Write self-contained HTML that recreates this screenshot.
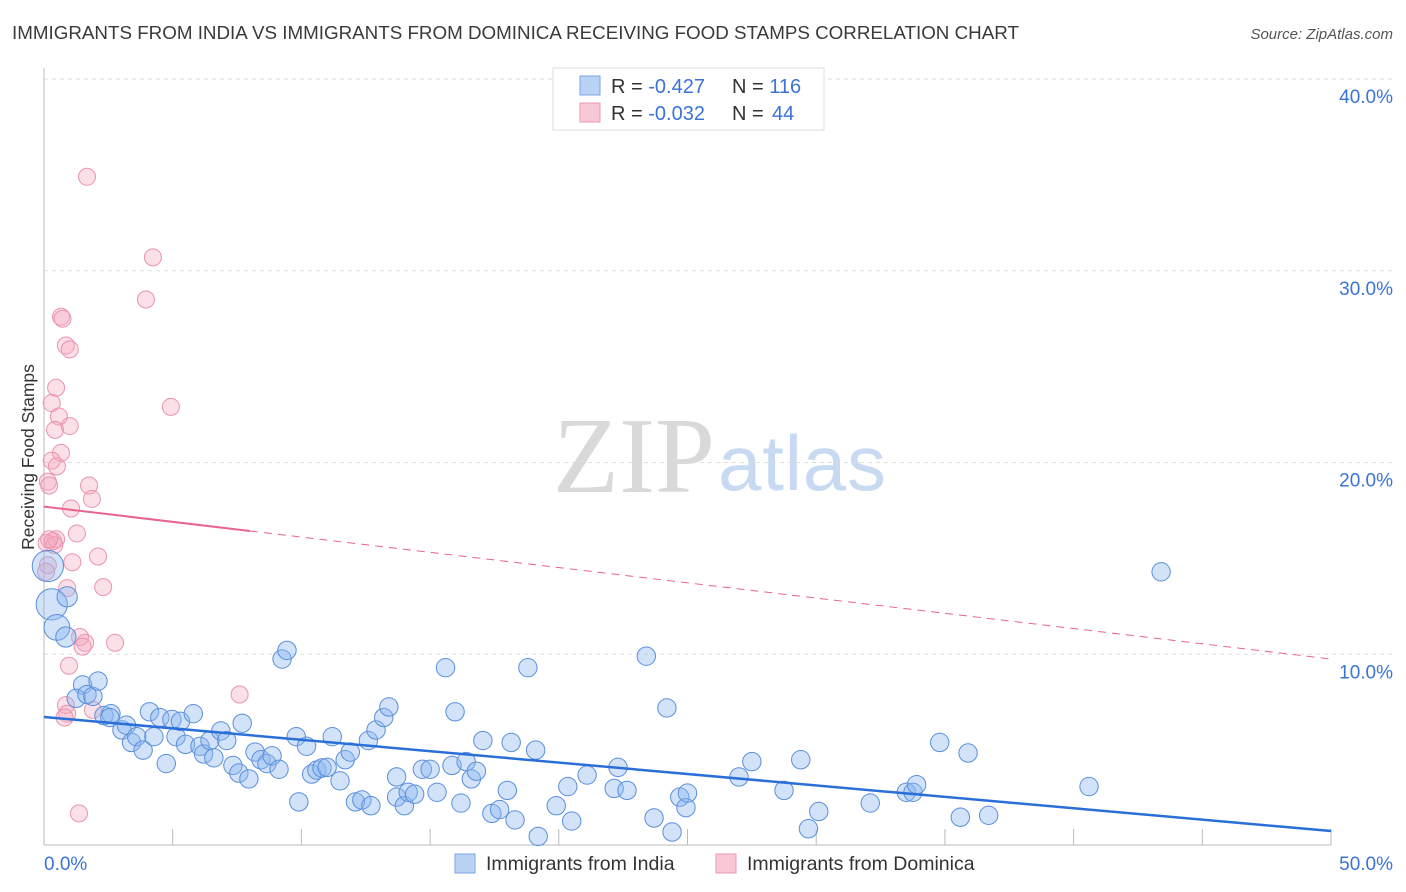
<!DOCTYPE html>
<html><head><meta charset="utf-8">
<style>
body{margin:0;background:#fff;font-family:"Liberation Sans",sans-serif;}
svg{display:block}
</style></head>
<body>
<svg id="chart" width="1406" height="892" xmlns="http://www.w3.org/2000/svg">
<text x="12" y="39" font-size="18.8" fill="#3a3a3a">IMMIGRANTS FROM INDIA VS IMMIGRANTS FROM DOMINICA RECEIVING FOOD STAMPS CORRELATION CHART</text>
<text x="1393" y="39" font-size="15" fill="#555" font-style="italic" text-anchor="end">Source: ZipAtlas.com</text>
<text x="0" y="0" font-size="17.5" fill="#333" text-anchor="middle" transform="translate(34,457) rotate(-90)">Receiving Food Stamps</text>
<g>
<text x="553" y="492" font-size="108" fill="#d9d9d9" font-family="Liberation Serif,serif" textLength="162">ZIP</text>
<text x="718" y="490" font-size="78" fill="#c8daf2" textLength="168">atlas</text>
</g>
<g id="grid"></g>
<g id="axes"></g>
<g id="marks"></g>
<g id="trend"></g>
<g>
<rect x="553" y="68" width="271" height="62" fill="#fff" stroke="#ddd"/>
<rect x="580" y="76" width="20" height="19" fill="#b9d3f5" stroke="#7ba6e6"/>
<rect x="580" y="103" width="20" height="19" fill="#f8c8d6" stroke="#e99ab2"/>
<text x="611" y="93" font-size="20" fill="#333">R = <tspan fill="#3b73d6">-0.427</tspan><tspan x="732">N = </tspan><tspan fill="#3b73d6">116</tspan></text>
<text x="611" y="120" font-size="20" fill="#333">R = <tspan fill="#3b73d6">-0.032</tspan><tspan x="732">N = </tspan><tspan fill="#3b73d6" x="772">44</tspan></text>
</g>
<g>
<rect x="455" y="854" width="20" height="19" fill="#b9d3f5" stroke="#7ba6e6"/>
<text x="486" y="870" font-size="19.5" fill="#333">Immigrants from India</text>
<rect x="716" y="854" width="20" height="19" fill="#f8c8d6" stroke="#e99ab2"/>
<text x="747" y="870" font-size="19.5" fill="#333">Immigrants from Dominica</text>
</g>
</svg>
<script>
const yTicks=[10,20,30,40];
const yTickLabels=["10.0%","20.0%","30.0%","40.0%"];
const xTicks=[0,5,10,15,20,25,30,35,40,45,50];
const indiaX=[0.15,0.3,0.5,0.9,0.85,1.5,1.25,1.67,1.9,2.1,2.33,2.6,2.56,3.03,3.2,3.4,3.6,3.85,4.1,4.27,4.5,4.75,4.97,5.13,5.3,5.5,5.8,6.06,6.2,6.45,6.6,6.87,7.1,7.34,7.57,7.7,7.96,8.2,8.43,8.66,8.86,9.13,9.25,9.44,9.8,9.9,10.2,10.4,10.6,10.8,11.0,11.2,11.5,11.7,11.9,12.1,12.35,12.6,12.7,12.9,13.2,13.4,13.7,13.7,14.0,14.15,14.4,14.7,15.0,15.27,15.6,15.85,15.97,16.2,16.4,16.6,16.8,17.05,17.4,17.7,18.0,18.15,18.3,18.8,19.1,19.2,19.9,20.35,20.5,21.1,22.15,22.3,22.65,23.4,23.7,24.2,24.4,24.7,24.94,25.0,27.0,27.5,28.75,29.4,29.7,30.1,32.1,33.5,33.76,33.9,34.8,35.6,35.9,36.7,40.6,43.4];
const indiaY=[14.6,12.6,11.4,13.0,10.9,8.4,7.7,7.9,7.8,8.6,6.8,6.9,6.7,6.05,6.3,5.4,5.7,5.0,7.0,5.7,6.7,4.3,6.6,5.7,6.5,5.3,6.9,5.2,4.8,5.5,4.6,6.0,5.5,4.2,3.8,6.4,3.5,4.9,4.5,4.3,4.7,4.0,9.75,10.2,5.7,2.3,5.2,3.75,3.96,4.07,4.1,5.7,3.4,4.5,4.9,2.3,2.4,5.5,2.1,6.05,6.7,7.25,3.6,2.55,2.1,2.8,2.7,4.0,4.0,2.8,9.3,4.2,7.0,2.24,4.4,3.5,3.9,5.5,1.7,1.9,2.9,5.4,1.36,9.3,5.0,0.5,2.1,3.1,1.3,3.7,3.0,4.1,2.9,9.9,1.46,7.2,0.73,2.55,2.0,2.76,3.6,4.4,2.9,4.5,0.9,1.8,2.24,2.8,2.8,3.2,5.4,1.5,4.85,1.6,3.1,14.3];
const indiaSize=[17,17,14,11,11,10,10,10,10,10,10,10,10,10,10,10,10,10,10,10,10,10,10,10,10,10,10,10,10,10,10,10,10,10,10,10,10,10,10,10,10,10,10,10,10,10,10,10,10,10,10,10,10,10,10,10,10,10,10,10,10,10,10,10,10,10,10,10,10,10,10,10,10,10,10,10,10,10,10,10,10,10,10,10,10,10,10,10,10,10,10,10,10,10,10,10,10,10,10,10,10,10,10,10,10,10,10,10,10,10,10,10,10,10,10,10];
const domX=[1.67,4.23,3.96,0.66,0.72,0.85,1.0,0.47,0.3,4.93,0.58,0.43,1.0,0.66,0.3,0.5,0.15,0.2,1.75,1.86,1.05,1.28,0.47,0.1,0.35,2.1,1.1,0.15,0.08,2.3,0.9,1.4,1.6,2.76,0.97,7.6,0.85,0.9,0.8,1.9,1.36,0.4,1.5,0.2];
const domY=[34.9,30.7,28.5,27.6,27.5,26.1,25.9,23.9,23.1,22.9,22.4,21.7,21.9,20.5,20.1,19.8,19.0,18.8,18.8,18.1,17.6,16.3,16.0,15.8,15.9,15.1,14.8,14.65,14.3,13.5,13.45,10.9,10.6,10.6,9.4,7.9,7.35,6.9,6.7,7.1,1.7,15.7,10.4,16.0];
const indiaTrend=[6.73,0.78];
const domTrend=[17.7,9.75];
const domSolidEnd=8;

const X0=44,X1=1331,Y0=846,Y40=79;
const sx=v=>X0+(X1-X0)*v/50;
const sy=v=>Y0-(Y0-Y40)*v/40;
const NS="http://www.w3.org/2000/svg";
function mk(tag,attrs,parent){const e=document.createElementNS(NS,tag);for(const k in attrs)e.setAttribute(k,attrs[k]);parent.appendChild(e);return e;}
const grid=document.getElementById('grid'),axes=document.getElementById('axes'),marks=document.getElementById('marks'),trend=document.getElementById('trend');
yTicks.forEach((t,i)=>{
 const l=mk('line',{x1:X0,x2:1393,y1:sy(t),y2:sy(t),stroke:'#ddd','stroke-dasharray':'4,4'},grid);
 
 
 const tx=mk('text',{x:1393,y:sy(t)+24,'font-size':19,fill:'#3b73d6','text-anchor':'end'},axes);
 tx.textContent=yTickLabels[i];
 
 
});
const ax=mk('line',{x1:X0,x2:X1,y1:845,y2:845,stroke:'#bbb'},axes);


const ay=mk('line',{x1:X0,x2:X0,y1:68,y2:845,stroke:'#bbb'},axes);


xTicks.forEach(t=>{
 const l=mk('line',{x1:sx(t),x2:sx(t),y1:829,y2:845,stroke:'#bbb'},axes);
 
 
});
const xl0=mk('text',{x:X0,y:870,'font-size':19,fill:'#3b73d6'},axes);xl0.textContent='0.0%';


const xl1=mk('text',{x:1393,y:870,'font-size':19,fill:'#3b73d6','text-anchor':'end'},axes);xl1.textContent='50.0%';


domX.forEach((x,i)=>{
 const c=mk('circle',{cx:sx(x),cy:sy(domY[i]),r:8.5,fill:'rgba(244,165,190,0.35)',stroke:'#ea94ae','stroke-width':1},marks);
 
 
});
indiaX.forEach((x,i)=>{
 const c=mk('circle',{cx:sx(x),cy:sy(indiaY[i]),r:(indiaSize[i]||10)*0.92,fill:'rgba(140,182,240,0.4)',stroke:'#5a8fdc','stroke-width':1},marks);
 
 
});
const bt=mk('line',{x1:sx(0),y1:sy(indiaTrend[0]),x2:sx(50),y2:sy(indiaTrend[1]),stroke:'#2a6fd8','stroke-width':2.5},trend);


const dAt=v=>domTrend[0]+(domTrend[1]-domTrend[0])*v/50;
const pt=mk('line',{x1:sx(0),y1:sy(domTrend[0]),x2:sx(domSolidEnd),y2:sy(dAt(domSolidEnd)),stroke:'#e8648e','stroke-width':2},trend);


const pd=mk('line',{x1:sx(domSolidEnd),y1:sy(dAt(domSolidEnd)),x2:sx(50),y2:sy(domTrend[1]),stroke:'#e8648e','stroke-width':1,'stroke-dasharray':'8,6'},trend);


</script>
</body></html>
